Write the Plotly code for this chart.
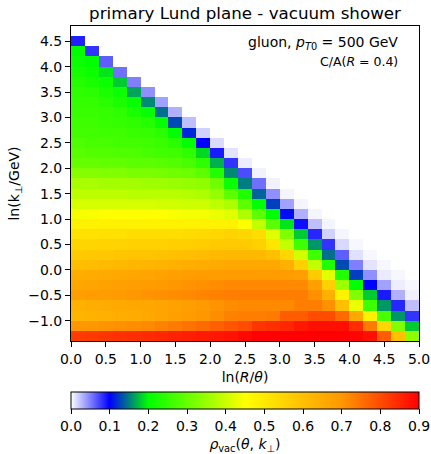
import plotly.graph_objects as go

# bin centres
x_centers = [0.1, 0.3, 0.5, 0.7, 0.9, 1.1, 1.3, 1.5, 1.7, 1.9, 2.1, 2.3, 2.5,
             2.7, 2.9, 3.1, 3.3, 3.5, 3.7, 3.9, 4.1, 4.3, 4.5, 4.7, 4.9]
y_centers = [-1.3, -1.1, -0.9, -0.7, -0.5, -0.3, -0.1, 0.1, 0.3, 0.5, 0.7, 0.9,
             1.1, 1.3, 1.5, 1.7, 1.9, 2.1, 2.3, 2.5, 2.7, 2.9, 3.1, 3.3, 3.5,
             3.7, 3.9, 4.1, 4.3, 4.5, 4.7]

# rho_vac values, one list per ln(kt) row (bottom -> top), columns from ln(R/theta)=0
r00 = [0.82, 0.825, 0.83, 0.835, 0.84, 0.845, 0.85, 0.855, 0.86, 0.865, 0.87, 0.875, 0.89, 0.9, 0.9, 0.9, 0.9, 0.9, 0.9, 0.9, 0.895, 0.88, 0.78, 0.60, 0.34]
r01 = [0.70, 0.70, 0.705, 0.71, 0.715, 0.72, 0.73, 0.74, 0.75, 0.76, 0.775, 0.79, 0.80, 0.83, 0.84, 0.85, 0.87, 0.88, 0.88, 0.88, 0.84, 0.74, 0.545, 0.325, 0.18]
r02 = [0.63, 0.635, 0.64, 0.645, 0.65, 0.66, 0.67, 0.68, 0.69, 0.70, 0.715, 0.73, 0.735, 0.735, 0.74, 0.78, 0.78, 0.80, 0.80, 0.76, 0.66, 0.48, 0.27, 0.16, 0.08]
r03 = [0.64, 0.645, 0.65, 0.655, 0.66, 0.665, 0.67, 0.675, 0.685, 0.695, 0.705, 0.715, 0.72, 0.72, 0.72, 0.72, 0.735, 0.735, 0.71, 0.60, 0.43, 0.26, 0.16, 0.085, 0.025]
r04 = [0.685, 0.69, 0.69, 0.695, 0.70, 0.705, 0.71, 0.715, 0.72, 0.725, 0.73, 0.735, 0.735, 0.735, 0.735, 0.735, 0.735, 0.71, 0.64, 0.48, 0.325, 0.18, 0.09, 0.031, 0.006]
r05 = [0.665, 0.67, 0.675, 0.68, 0.685, 0.69, 0.695, 0.70, 0.705, 0.71, 0.715, 0.72, 0.72, 0.72, 0.72, 0.72, 0.72, 0.68, 0.56, 0.355, 0.20, 0.10, 0.037, 0.007, 0.003]
r06 = [0.645, 0.65, 0.655, 0.66, 0.665, 0.67, 0.675, 0.68, 0.685, 0.69, 0.69, 0.69, 0.69, 0.69, 0.69, 0.69, 0.68, 0.575, 0.42, 0.23, 0.125, 0.044, 0.008, 0.003]
r07 = [0.605, 0.61, 0.615, 0.62, 0.625, 0.63, 0.635, 0.64, 0.645, 0.65, 0.655, 0.66, 0.66, 0.66, 0.66, 0.64, 0.56, 0.39, 0.23, 0.13, 0.05, 0.011, 0.003]
r08 = [0.575, 0.58, 0.58, 0.585, 0.59, 0.59, 0.595, 0.60, 0.605, 0.61, 0.615, 0.62, 0.62, 0.62, 0.60, 0.545, 0.405, 0.26, 0.145, 0.063, 0.012, 0.003]
r09 = [0.55, 0.55, 0.555, 0.555, 0.56, 0.56, 0.56, 0.565, 0.565, 0.57, 0.575, 0.575, 0.575, 0.56, 0.51, 0.39, 0.26, 0.16, 0.08, 0.015, 0.003]
r10 = [0.52, 0.52, 0.525, 0.525, 0.53, 0.53, 0.53, 0.53, 0.535, 0.54, 0.545, 0.555, 0.545, 0.53, 0.42, 0.325, 0.18, 0.085, 0.018, 0.004]
r11 = [0.48, 0.48, 0.48, 0.48, 0.48, 0.48, 0.48, 0.48, 0.48, 0.48, 0.48, 0.48, 0.45, 0.39, 0.29, 0.19, 0.095, 0.025, 0.004]
r12 = [0.44, 0.445, 0.45, 0.45, 0.45, 0.45, 0.45, 0.445, 0.44, 0.44, 0.43, 0.42, 0.37, 0.29, 0.20, 0.105, 0.031, 0.004]
r13 = [0.41, 0.41, 0.41, 0.41, 0.41, 0.41, 0.405, 0.405, 0.40, 0.40, 0.385, 0.37, 0.29, 0.20, 0.125, 0.037, 0.004]
r14 = [0.385, 0.385, 0.385, 0.385, 0.38, 0.38, 0.38, 0.38, 0.375, 0.37, 0.345, 0.29, 0.23, 0.14, 0.044, 0.004]
r15 = [0.365, 0.365, 0.36, 0.36, 0.36, 0.355, 0.355, 0.35, 0.345, 0.34, 0.31, 0.21, 0.15, 0.056, 0.005]
r16 = [0.33, 0.33, 0.325, 0.325, 0.32, 0.32, 0.315, 0.31, 0.305, 0.29, 0.23, 0.155, 0.07, 0.005]
r17 = [0.30, 0.30, 0.295, 0.295, 0.29, 0.29, 0.285, 0.28, 0.27, 0.245, 0.17, 0.08, 0.007]
r18 = [0.285, 0.28, 0.28, 0.275, 0.275, 0.27, 0.265, 0.26, 0.245, 0.185, 0.09, 0.011]
r19 = [0.275, 0.27, 0.27, 0.265, 0.265, 0.26, 0.255, 0.24, 0.20, 0.10, 0.014]
r20 = [0.265, 0.265, 0.26, 0.26, 0.255, 0.25, 0.24, 0.20, 0.115, 0.018]
r21 = [0.26, 0.26, 0.255, 0.25, 0.245, 0.235, 0.205, 0.13, 0.025]
r22 = [0.255, 0.255, 0.25, 0.245, 0.225, 0.205, 0.145, 0.031]
r23 = [0.25, 0.25, 0.24, 0.225, 0.205, 0.155, 0.037]
r24 = [0.245, 0.24, 0.225, 0.21, 0.165, 0.044]
r25 = [0.235, 0.225, 0.21, 0.18, 0.05]
r26 = [0.22, 0.21, 0.19, 0.056]
r27 = [0.21, 0.20, 0.063]
r28 = [0.20, 0.08]
r29 = [0.087]
r30 = []

rows = [r00, r01, r02, r03, r04, r05, r06, r07, r08, r09, r10, r11, r12, r13, r14,
        r15, r16, r17, r18, r19, r20, r21, r22, r23, r24, r25, r26, r27, r28, r29, r30]
z = [r + [None] * (len(x_centers) - len(r)) for r in rows]

# colour map stops
cmap_vals = [0.0, 0.1, 0.15, 0.2, 0.45, 0.6, 0.7, 0.9]
cmap_cols = ["rgb(255,255,255)", "rgb(0,0,255)", "rgb(0,125,128)", "rgb(0,255,0)",
             "rgb(255,255,0)", "rgb(255,192,0)", "rgb(255,152,0)", "rgb(255,0,0)"]
zmax = 0.9
colorscale = [[v / zmax, c] for v, c in zip(cmap_vals, cmap_cols)]

x_ticks = [0.0, 0.5, 1.0, 1.5, 2.0, 2.5, 3.0, 3.5, 4.0, 4.5, 5.0]
y_ticks = [-1.0, -0.5, 0.0, 0.5, 1.0, 1.5, 2.0, 2.5, 3.0, 3.5, 4.0, 4.5]
cb_ticks = [0.0, 0.1, 0.2, 0.3, 0.4, 0.5, 0.6, 0.7, 0.8, 0.9]


def fmt(v):
    s = f"{v:.1f}"
    return s.replace("-", "\u2212")


FONT = "DejaVu Sans"

fig = go.Figure(go.Heatmap(
    x=x_centers, y=y_centers, z=z, zmin=0, zmax=zmax,
    colorscale=colorscale, hoverongaps=False,
    colorbar=dict(
        orientation="h", x=0, xanchor="left", xref="paper", len=1, lenmode="fraction",
        y=-0.162, yanchor="top", yref="paper", thickness=17, thicknessmode="pixels",
        outlinewidth=1, outlinecolor="black", xpad=0, ypad=0,
        ticks="outside", ticklen=5, tickwidth=1, tickcolor="black",
        tickvals=cb_ticks, ticktext=[fmt(v) for v in cb_ticks],
        tickfont=dict(family=FONT, size=14, color="black"),
        title=dict(text="<i>ρ</i><sub>vac</sub>(<i>θ</i>, <i>k</i><sub>⊥</sub>)", side="bottom",
                   font=dict(family=FONT, size=14, color="black")),
    ),
))

axis_common = dict(showgrid=False, zeroline=False, showline=True, mirror=True,
                   linecolor="black", linewidth=1, ticks="outside", ticklen=5,
                   tickwidth=1, tickcolor="black",
                   tickfont=dict(family=FONT, size=14, color="black"))

fig.update_xaxes(range=[0, 5], tickvals=x_ticks, ticktext=[fmt(v) for v in x_ticks],
                 title=dict(text="ln(<i>R</i>/<i>θ</i>)", font=dict(family=FONT, size=14), standoff=6),
                 **axis_common)
fig.update_yaxes(range=[-1.4, 4.8], tickvals=y_ticks, ticktext=[fmt(v) for v in y_ticks],
                 title=dict(text="ln(k<sub>⊥</sub>/GeV)", font=dict(family=FONT, size=14), standoff=5),
                 **axis_common)

fig.update_layout(
    width=431, height=454,
    margin=dict(l=71, r=12, t=26, b=113, autoexpand=False),
    paper_bgcolor="white", plot_bgcolor="white",
    font=dict(family=FONT, size=14, color="black"),
    title=dict(text="primary Lund plane - vacuum shower", x=0.5, xref="paper", xanchor="center",
               y=1 - 13 / 454, yref="container", yanchor="middle",
               font=dict(family=FONT, size=16.7, color="black")),
    annotations=[
        dict(text="gluon, <i>p</i><sub><i>T</i>0</sub> = 500 GeV", x=0.945, y=0.946,
             xref="paper", yref="paper", xanchor="right", yanchor="middle", showarrow=False,
             font=dict(family=FONT, size=14, color="black")),
        dict(text="C/A(<i>R</i> = 0.4)", x=0.945, y=0.886,
             xref="paper", yref="paper", xanchor="right", yanchor="middle", showarrow=False,
             font=dict(family=FONT, size=12.5, color="black")),
    ],
)

fig.write_html("out.html")
